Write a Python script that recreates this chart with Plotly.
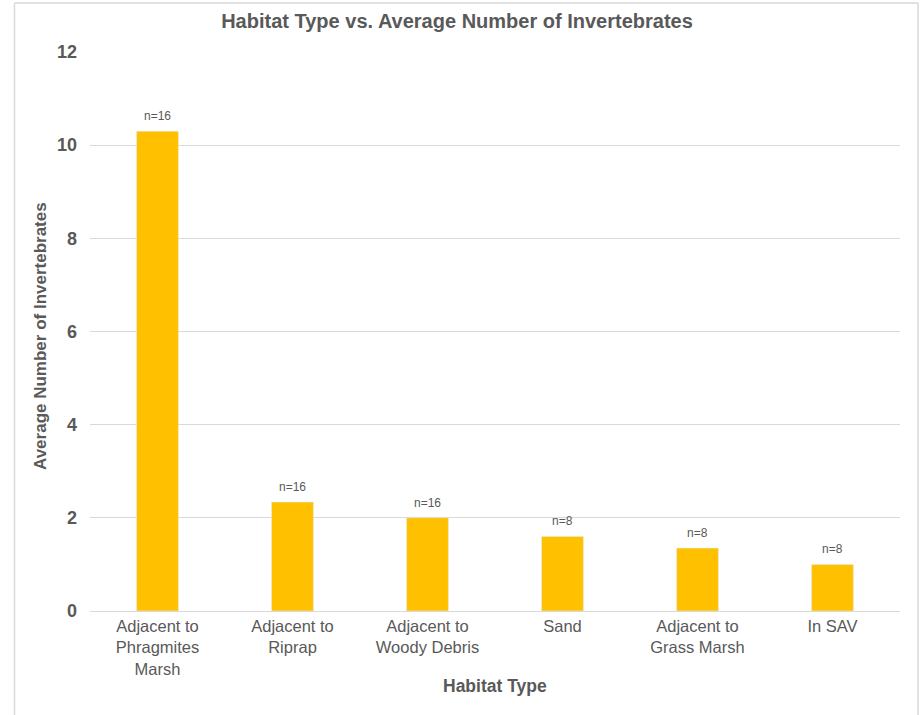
import plotly.graph_objects as go

categories = ["Adjacent to<br>Phragmites<br>Marsh", "Adjacent to<br>Riprap", "Adjacent to<br>Woody Debris",
              "Sand", "Adjacent to<br>Grass Marsh", "In SAV"]
values = [10.3, 2.34, 2.0, 1.6, 1.35, 1.0]
n_labels = ["n=16", "n=16", "n=16", "n=8", "n=8", "n=8"]
y_ticks = [0, 2, 4, 6, 8, 10, 12]

W, H = 924, 715
L, R, T, B = 90, 24, 52, 104
pw, ph = W - L - R, H - T - B

def px_x(x):
    return (x - L) / pw

def px_y(y):
    return (H - B - y) / ph

gray = "#595959"
fam = "Liberation Sans, Arial"
fig = go.Figure()
fig.add_trace(go.Bar(x=categories, y=values, marker_color="#FFC000", width=0.31,
                     hoverinfo="skip"))

for c, v, t in zip(categories, values, n_labels):
    fig.add_annotation(x=c, y=v, text=t, showarrow=False, yanchor="bottom", yshift=6,
                       font=dict(size=12, color=gray, family=fam))

fig.add_annotation(xref="paper", yref="paper", x=0.5, y=px_y(686), text="<b>Habitat Type</b>",
                   showarrow=False, yanchor="middle", xanchor="center",
                   font=dict(size=17.5, color=gray, family=fam))
fig.add_annotation(xref="paper", yref="paper", x=px_x(40), y=px_y(336), text="<b>Average Number of Invertebrates</b>",
                   showarrow=False, textangle=-90, yanchor="middle", xanchor="center",
                   font=dict(size=17, color=gray, family=fam))

# frame
bc = "#D9D9D9"
fig.add_shape(type="line", xref="paper", yref="paper", x0=px_x(14.5), x1=px_x(14.5),
              y0=px_y(3), y1=px_y(715), line=dict(color=bc, width=1.5))
fig.add_shape(type="line", xref="paper", yref="paper", x0=px_x(14.5), x1=px_x(918),
              y0=px_y(3), y1=px_y(3), line=dict(color=bc, width=1.5))
fig.add_shape(type="line", xref="paper", yref="paper", x0=px_x(918), x1=px_x(918),
              y0=px_y(3), y1=px_y(715), line=dict(color=bc, width=1.5))

fig.update_layout(
    width=W, height=H, margin=dict(l=L, r=R, t=T, b=B),
    plot_bgcolor="white", paper_bgcolor="white", showlegend=False,
    title=dict(text="<b>Habitat Type vs. Average Number of Invertebrates</b>",
               x=457 / W, xanchor="center", xref="container",
               y=1 - 21 / H, yanchor="middle", yref="container",
               font=dict(size=20, color=gray, family=fam)),
    font=dict(family=fam, color=gray),
)
fig.update_xaxes(showline=True, linecolor="#D9D9D9", linewidth=1, ticks="",
                 tickfont=dict(size=16.5, color=gray, family=fam),
                 fixedrange=True)
fig.update_yaxes(range=[0, 12], tickvals=y_ticks, ticktext=[f"<b>{v}</b>" for v in y_ticks],
                 showgrid=True, gridcolor="#D9D9D9", gridwidth=1, zeroline=False,
                 ticklabelstandoff=12,
                 tickfont=dict(size=18, color=gray, family=fam),
                 fixedrange=True)

fig.write_html("out.html")
